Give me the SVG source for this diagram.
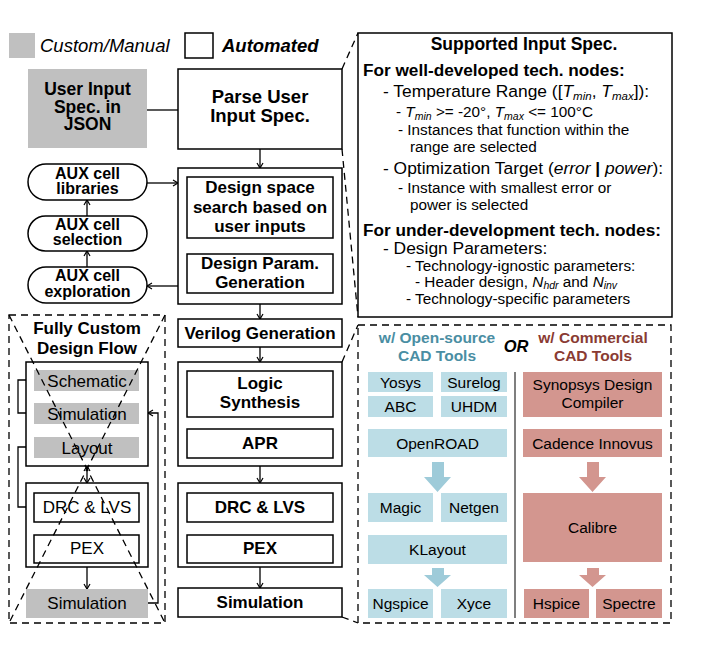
<svg xmlns="http://www.w3.org/2000/svg" width="702" height="646" viewBox="0 0 702 646">
<defs>
<marker id="ah" markerWidth="8" markerHeight="8" refX="6" refY="4" orient="auto" markerUnits="userSpaceOnUse">
<path d="M1,1 L6,4 L1,7" fill="none" stroke="#000" stroke-width="1.2"/>
</marker>
<marker id="ahs" markerWidth="8" markerHeight="8" refX="6" refY="4" orient="auto-start-reverse" markerUnits="userSpaceOnUse">
<path d="M1,1 L6,4 L1,7" fill="none" stroke="#000" stroke-width="1.2"/>
</marker>
</defs>
<style>
text{font-family:"Liberation Sans",Arial,sans-serif;fill:#000}
.b{font-weight:bold}
.c{text-anchor:middle}
.box{fill:#fff;stroke:#000;stroke-width:1.5}
.gray{fill:#c0c0c0;stroke:none}
.pill{fill:#fff;stroke:#000;stroke-width:1.5}
.dash{fill:none;stroke:#000;stroke-width:1.3;stroke-dasharray:7,5}
.ln{fill:none;stroke:#000;stroke-width:1.3}
.arr{fill:none;stroke:#000;stroke-width:1.3;marker-end:url(#ah)}
.blue{fill:#bcdde6}
.pink{fill:#d3968f}
.barr{fill:#9ecbd9}
.rarr{fill:#d3968f}
.n17{font-size:17px}
.n16{font-size:16px}
.n15{font-size:15.5px}
.sh{font-size:17.2px;font-weight:bold}
.si{font-size:17.4px}
.ss{font-size:15.3px}
.it{font-style:italic}
</style>

<!-- legend -->
<g id="legend">
<rect x="9" y="33" width="26" height="25" class="gray"/>
<text x="40" y="52" font-size="18.5" font-style="italic">Custom/Manual</text>
<rect x="185" y="33" width="28" height="25" class="box"/>
<text x="222" y="52" font-size="18.5" font-style="italic" class="b">Automated</text>
</g>

<!-- connectors -->
<g id="connectors">
<line x1="147" y1="110" x2="178" y2="110" class="ln"/>
<line x1="260" y1="149" x2="260" y2="168" class="arr"/>
<line x1="260" y1="238" x2="260" y2="254" class="arr"/>
<line x1="147" y1="183" x2="178" y2="183" class="arr"/>
<line x1="87" y1="216" x2="87" y2="200" class="arr"/>
<line x1="87" y1="267" x2="87" y2="251" class="arr"/>
<line x1="178" y1="286" x2="147" y2="286" class="arr"/>
<line x1="260" y1="304" x2="260" y2="319" class="arr"/>
<line x1="260" y1="347" x2="260" y2="362" class="arr"/>
<line x1="260" y1="417" x2="260" y2="429" class="arr"/>
<line x1="260" y1="466" x2="260" y2="483" class="arr"/>
<line x1="260" y1="522" x2="260" y2="535" class="arr"/>
<line x1="260" y1="567" x2="260" y2="588" class="arr"/>
<!-- fully custom flow -->
<line x1="87" y1="391" x2="87" y2="403" class="arr"/>
<line x1="87" y1="424" x2="87" y2="437" class="arr"/>
<line x1="87" y1="466" x2="87" y2="483" class="arr" marker-start="url(#ahs)"/>
<line x1="87" y1="522" x2="87" y2="535" class="arr"/>
<line x1="87" y1="567" x2="87" y2="589" class="arr"/>
<polyline points="34,413 18,413 18,380 34,380" class="arr"/>
<polyline points="34,507 18,507 18,447 34,447" class="arr"/>
<polyline points="148,603 158,603 158,413 148,413" class="arr"/>
<!-- zoom lines -->
<line x1="342" y1="69" x2="358" y2="33" class="dash"/>
<line x1="342" y1="149" x2="358" y2="317" class="dash"/>
<line x1="342" y1="362" x2="358" y2="325" class="dash"/>
<line x1="342" y1="617" x2="358" y2="623" class="dash"/>
</g>

<!-- center column -->
<g id="userSpec">
<rect x="28" y="69" width="119" height="79" class="gray"/>
<text x="87.5" y="95" class="b c" font-size="17.5">User Input</text>
<text x="87.5" y="112.5" class="b c" font-size="17.5">Spec. in</text>
<text x="87.5" y="130" class="b c" font-size="17.5">JSON</text>
</g>
<g id="parse">
<rect x="178" y="69" width="164" height="80" class="box"/>
<text x="260" y="103" class="b c" font-size="18.5">Parse User</text>
<text x="260" y="122" class="b c" font-size="18.5">Input Spec.</text>
</g>
<g id="designSpace">
<rect x="178" y="168" width="164" height="136" class="box"/>
<g id="dsSearch">
<rect x="187" y="177" width="146" height="61" class="box"/>
<text x="260" y="193" class="b c n17">Design space</text>
<text x="260" y="213" class="b c n17">search based on</text>
<text x="260" y="232" class="b c n17">user inputs</text>
</g>
<g id="dsParam">
<rect x="187" y="254" width="146" height="39" class="box"/>
<text x="260" y="269" class="b c n17">Design Param.</text>
<text x="260" y="288" class="b c n17">Generation</text>
</g>
</g>
<g id="verilog">
<rect x="178" y="319" width="164" height="28" class="box"/>
<text x="260" y="339" class="b c n17">Verilog Generation</text>
</g>
<g id="synthBlock">
<rect x="178" y="362" width="164" height="104" class="box"/>
<g id="logicSynth">
<rect x="187" y="371" width="146" height="46" class="box"/>
<text x="260" y="389" class="b c n17">Logic</text>
<text x="260" y="408" class="b c n17">Synthesis</text>
</g>
<g id="apr">
<rect x="187" y="429" width="146" height="29" class="box"/>
<text x="260" y="449" class="b c n17">APR</text>
</g>
</g>
<g id="verifBlock">
<rect x="178" y="483" width="164" height="84" class="box"/>
<g id="drc">
<rect x="187" y="493" width="146" height="29" class="box"/>
<text x="260" y="513" class="b c n17">DRC &amp; LVS</text>
</g>
<g id="pex">
<rect x="187" y="535" width="146" height="28" class="box"/>
<text x="260" y="554" class="b c n17">PEX</text>
</g>
</g>
<g id="simulation">
<rect x="178" y="588" width="164" height="29" class="box"/>
<text x="260" y="608" class="b c n17">Simulation</text>
</g>

<!-- AUX cells -->
<g id="auxLib">
<rect x="28" y="164" width="119" height="36" rx="18" class="pill"/>
<text x="87.5" y="179" class="b c n16">AUX cell</text>
<text x="87.5" y="194" class="b c n16">libraries</text>
</g>
<g id="auxSel">
<rect x="28" y="216" width="119" height="35" rx="17.5" class="pill"/>
<text x="87.5" y="230" class="b c n16">AUX cell</text>
<text x="87.5" y="245" class="b c n16">selection</text>
</g>
<g id="auxExp">
<rect x="28" y="267" width="119" height="36" rx="18" class="pill"/>
<text x="87.5" y="281" class="b c n16">AUX cell</text>
<text x="87.5" y="297" class="b c n16">exploration</text>
</g>

<!-- fully custom flow -->
<g id="fullyCustom">
<rect x="9" y="315" width="156" height="308" class="dash"/>
<text x="87" y="334" class="b c n17">Fully Custom</text>
<text x="87" y="354" class="b c n17">Design Flow</text>
<g id="fcBox1">
<rect x="26" y="362" width="122" height="104" class="box"/>
<rect x="34" y="370" width="105" height="21" class="gray"/>
<text x="87" y="387" class="c n17">Schematic</text>
<rect x="34" y="403" width="105" height="21" class="gray"/>
<text x="87" y="420" class="c n17">Simulation</text>
<rect x="34" y="437" width="105" height="21" class="gray"/>
<text x="87" y="454" class="c n17">Layout</text>
</g>
<g id="fcBox2">
<rect x="26" y="483" width="122" height="84" class="box"/>
<rect x="34" y="493" width="105" height="29" class="box"/>
<text x="87" y="513" class="c n17">DRC &amp; LVS</text>
<rect x="34" y="535" width="105" height="28" class="box"/>
<text x="87" y="554" class="c n17">PEX</text>
</g>
<g id="fcSim">
<rect x="26" y="589" width="122" height="29" class="gray"/>
<text x="87" y="609" class="c n17">Simulation</text>
</g>
<line x1="9" y1="315" x2="165" y2="623" class="dash"/>
<line x1="165" y1="315" x2="9" y2="623" class="dash"/>
</g>

<!-- supported input spec -->
<g id="specBox">
<rect x="358" y="33" width="314" height="284" class="box"/>
<text x="524" y="50" class="b c" font-size="17.5">Supported Input Spec.</text>
<text x="363" y="76" class="sh">For well-developed tech. nodes:</text>
<text x="383" y="97" class="si">- Temperature Range ([<tspan class="it">T</tspan><tspan class="it" font-size="11.5" dy="2.5">min</tspan><tspan dy="-2.5">, </tspan><tspan class="it">T</tspan><tspan class="it" font-size="11.5" dy="2.5">max</tspan><tspan dy="-2.5">]):</tspan></text>
<text x="396" y="117" class="ss">- <tspan class="it">T</tspan><tspan class="it" font-size="10.5" dy="2.5">min</tspan><tspan dy="-2.5"> &gt;= -20°, </tspan><tspan class="it">T</tspan><tspan class="it" font-size="10.5" dy="2.5">max</tspan><tspan dy="-2.5"> &lt;= 100°C</tspan></text>
<text x="398" y="135" class="ss">- Instances that function within the</text>
<text x="410" y="152" class="ss">range are selected</text>
<text x="383" y="174" class="si">- Optimization Target (<tspan class="it">error</tspan> <tspan class="b">|</tspan> <tspan class="it">power</tspan>):</text>
<text x="398" y="193" class="ss">- Instance with smallest error or</text>
<text x="410" y="210" class="ss">power is selected</text>
<text x="363" y="236" class="sh">For under-development tech. nodes:</text>
<text x="383" y="254" class="si">- Design Parameters:</text>
<text x="406" y="271" class="ss">- Technology-ignostic parameters:</text>
<text x="415" y="287" class="ss">- Header design, <tspan class="it">N</tspan><tspan class="it" font-size="10.5" dy="2">hdr</tspan><tspan dy="-2"> and </tspan><tspan class="it">N</tspan><tspan class="it" font-size="10.5" dy="2">inv</tspan></text>
<text x="406" y="304" class="ss">- Technology-specific parameters</text>
</g>

<!-- tools -->
<g id="toolsBox">
<rect x="358" y="325" width="313" height="298" class="dash"/>
<text x="437" y="343" class="b c n15" style="fill:#4a8ea3">w/ Open-source</text>
<text x="437" y="361" class="b c n15" style="fill:#4a8ea3">CAD Tools</text>
<text x="516" y="352" class="b c" font-size="16.5" font-style="italic">OR</text>
<text x="593" y="343" class="b c n15" style="fill:#8a3b33">w/ Commercial</text>
<text x="593" y="361" class="b c n15" style="fill:#8a3b33">CAD Tools</text>
<line x1="515" y1="372" x2="515" y2="618" stroke="#555" stroke-width="1.5"/>
</g>
<g id="openTools">
<g id="yosys"><rect x="368" y="372" width="65" height="20" class="blue"/><text x="400.5" y="388" class="c n15">Yosys</text></g>
<g id="surelog"><rect x="441" y="372" width="66" height="20" class="blue"/><text x="474" y="388" class="c n15">Surelog</text></g>
<g id="abc"><rect x="368" y="396" width="65" height="21" class="blue"/><text x="400.5" y="412" class="c n15">ABC</text></g>
<g id="uhdm"><rect x="441" y="396" width="66" height="21" class="blue"/><text x="474" y="412" class="c n15">UHDM</text></g>
<g id="openroad"><rect x="368" y="429" width="139" height="28" class="blue"/><text x="437.5" y="449" class="c n15">OpenROAD</text></g>
<polygon points="432,462 444,462 444,477 451,477 437.5,492 424,477 432,477" class="barr"/>
<g id="magic"><rect x="368" y="493" width="65" height="29" class="blue"/><text x="400.5" y="513" class="c n15">Magic</text></g>
<g id="netgen"><rect x="441" y="493" width="66" height="29" class="blue"/><text x="474" y="513" class="c n15">Netgen</text></g>
<g id="klayout"><rect x="368" y="535" width="139" height="29" class="blue"/><text x="437.5" y="555" class="c n15">KLayout</text></g>
<polygon points="432,568 444,568 444,575 451,575 437.5,587 424,575 432,575" class="barr"/>
<g id="ngspice"><rect x="368" y="589" width="65" height="29" class="blue"/><text x="400.5" y="609" class="c n15">Ngspice</text></g>
<g id="xyce"><rect x="441" y="589" width="66" height="29" class="blue"/><text x="474" y="609" class="c n15">Xyce</text></g>
</g>
<g id="commTools">
<g id="synopsys"><rect x="523" y="372" width="139" height="45" class="pink"/><text x="592.5" y="390" class="c n15">Synopsys Design</text><text x="592.5" y="408" class="c n15">Compiler</text></g>
<g id="innovus"><rect x="523" y="429" width="139" height="28" class="pink"/><text x="592.5" y="449" class="c n15">Cadence Innovus</text></g>
<polygon points="587,462 599,462 599,477 606,477 592.5,492 579,477 587,477" class="rarr"/>
<g id="calibre"><rect x="523" y="493" width="139" height="69" class="pink"/><text x="592.5" y="533" class="c n15">Calibre</text></g>
<polygon points="587,568 599,568 599,575 606,575 592.5,587 579,575 587,575" class="rarr"/>
<g id="hspice"><rect x="524" y="589" width="65" height="29" class="pink"/><text x="556.5" y="609" class="c n15">Hspice</text></g>
<g id="spectre"><rect x="596" y="589" width="66" height="29" class="pink"/><text x="629" y="609" class="c n15">Spectre</text></g>
</g>
</svg>
